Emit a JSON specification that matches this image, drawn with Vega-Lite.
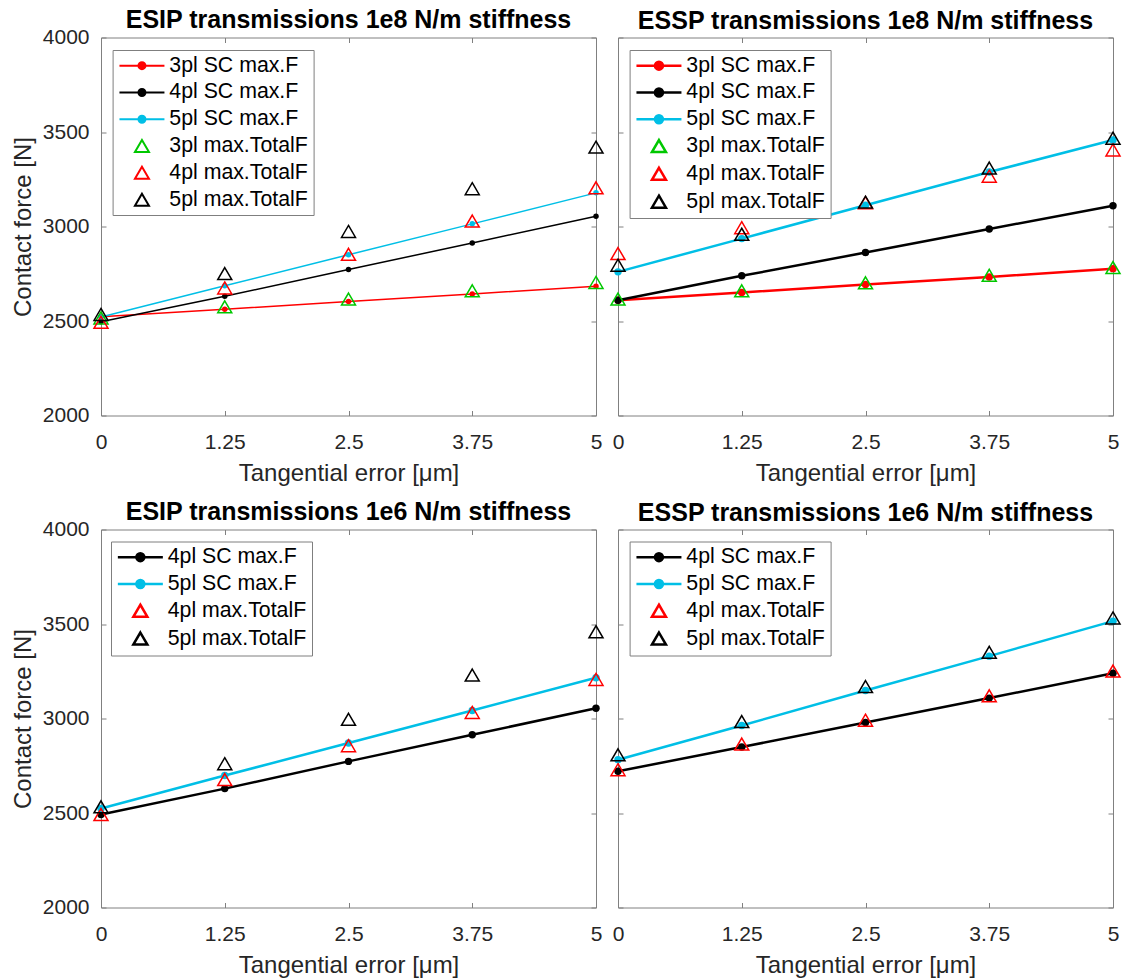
{
  "$schema": "https://vega.github.io/schema/vega-lite/v6.json",
  "background": "white",
  "padding": {"left": 11, "top": 7.5, "right": 5, "bottom": 0},
  "config": {
    "font": "Liberation Sans",
    "view": {"stroke": "#808080", "strokeWidth": 1},
    "axis": {"domain": false, "grid": false, "tickColor": "#808080", "tickSize": -5, "tickWidth": 1,
      "labelFont": "Liberation Sans", "labelFontSize": 21, "labelColor": "#262626", "labelFlush": false, "labelOverlap": false,
      "titleFont": "Liberation Sans", "titleFontSize": 24, "titleFontWeight": "normal", "titleColor": "#262626"},
    "axisX": {"labelPadding": 20.5, "titlePadding": 9},
    "axisY": {"labelPadding": 17, "titlePadding": 6.5},
    "title": {"font": "Liberation Sans", "fontSize": 25, "fontWeight": "bold", "color": "black", "anchor": "middle", "frame": "group"},
    "legend": {"padding": 5, "rowPadding": 4.8, "labelFont": "Liberation Sans", "labelFontSize": 21.3, "labelColor": "black", "labelLimit": 400,
      "symbolSize": 100, "symbolOffset": 13.7, "labelOffset": 16.7, "strokeColor": "#7f7f7f", "fillColor": "white", "cornerRadius": 0, "symbolOpacity": 1}
  },
  "datasets": {
    "d": [
      {"panel": "TL", "series": "3pl SC max.F", "kind": "SC", "err": 0, "force": 2522},
      {"panel": "TL", "series": "3pl SC max.F", "kind": "SC", "err": 1.25, "force": 2562},
      {"panel": "TL", "series": "3pl SC max.F", "kind": "SC", "err": 2.5, "force": 2603},
      {"panel": "TL", "series": "3pl SC max.F", "kind": "SC", "err": 3.75, "force": 2643},
      {"panel": "TL", "series": "3pl SC max.F", "kind": "SC", "err": 5, "force": 2684},
      {"panel": "TL", "series": "4pl SC max.F", "kind": "SC", "err": 0, "force": 2496},
      {"panel": "TL", "series": "4pl SC max.F", "kind": "SC", "err": 1.25, "force": 2631},
      {"panel": "TL", "series": "4pl SC max.F", "kind": "SC", "err": 2.5, "force": 2772},
      {"panel": "TL", "series": "4pl SC max.F", "kind": "SC", "err": 3.75, "force": 2913},
      {"panel": "TL", "series": "4pl SC max.F", "kind": "SC", "err": 5, "force": 3054},
      {"panel": "TL", "series": "5pl SC max.F", "kind": "SC", "err": 0, "force": 2521},
      {"panel": "TL", "series": "5pl SC max.F", "kind": "SC", "err": 1.25, "force": 2686},
      {"panel": "TL", "series": "5pl SC max.F", "kind": "SC", "err": 2.5, "force": 2850},
      {"panel": "TL", "series": "5pl SC max.F", "kind": "SC", "err": 3.75, "force": 3014},
      {"panel": "TL", "series": "5pl SC max.F", "kind": "SC", "err": 5, "force": 3178},
      {"panel": "TL", "series": "3pl max.TotalF", "kind": "Total", "err": 0, "force": 2516},
      {"panel": "TL", "series": "3pl max.TotalF", "kind": "Total", "err": 1.25, "force": 2575},
      {"panel": "TL", "series": "3pl max.TotalF", "kind": "Total", "err": 2.5, "force": 2616},
      {"panel": "TL", "series": "3pl max.TotalF", "kind": "Total", "err": 3.75, "force": 2660},
      {"panel": "TL", "series": "3pl max.TotalF", "kind": "Total", "err": 5, "force": 2704},
      {"panel": "TL", "series": "4pl max.TotalF", "kind": "Total", "err": 0, "force": 2493},
      {"panel": "TL", "series": "4pl max.TotalF", "kind": "Total", "err": 1.25, "force": 2675},
      {"panel": "TL", "series": "4pl max.TotalF", "kind": "Total", "err": 2.5, "force": 2853},
      {"panel": "TL", "series": "4pl max.TotalF", "kind": "Total", "err": 3.75, "force": 3029},
      {"panel": "TL", "series": "4pl max.TotalF", "kind": "Total", "err": 5, "force": 3205},
      {"panel": "TL", "series": "5pl max.TotalF", "kind": "Total", "err": 0, "force": 2535},
      {"panel": "TL", "series": "5pl max.TotalF", "kind": "Total", "err": 1.25, "force": 2751},
      {"panel": "TL", "series": "5pl max.TotalF", "kind": "Total", "err": 2.5, "force": 2974},
      {"panel": "TL", "series": "5pl max.TotalF", "kind": "Total", "err": 3.75, "force": 3200},
      {"panel": "TL", "series": "5pl max.TotalF", "kind": "Total", "err": 5, "force": 3420},

      {"panel": "TR", "series": "3pl SC max.F", "kind": "SC", "err": 0, "force": 2610},
      {"panel": "TR", "series": "3pl SC max.F", "kind": "SC", "err": 1.25, "force": 2651},
      {"panel": "TR", "series": "3pl SC max.F", "kind": "SC", "err": 2.5, "force": 2693},
      {"panel": "TR", "series": "3pl SC max.F", "kind": "SC", "err": 3.75, "force": 2733},
      {"panel": "TR", "series": "3pl SC max.F", "kind": "SC", "err": 5, "force": 2777},
      {"panel": "TR", "series": "4pl SC max.F", "kind": "SC", "err": 0, "force": 2610},
      {"panel": "TR", "series": "4pl SC max.F", "kind": "SC", "err": 1.25, "force": 2739},
      {"panel": "TR", "series": "4pl SC max.F", "kind": "SC", "err": 2.5, "force": 2862},
      {"panel": "TR", "series": "4pl SC max.F", "kind": "SC", "err": 3.75, "force": 2987},
      {"panel": "TR", "series": "4pl SC max.F", "kind": "SC", "err": 5, "force": 3110},
      {"panel": "TR", "series": "5pl SC max.F", "kind": "SC", "err": 0, "force": 2760},
      {"panel": "TR", "series": "5pl SC max.F", "kind": "SC", "err": 1.25, "force": 2936},
      {"panel": "TR", "series": "5pl SC max.F", "kind": "SC", "err": 2.5, "force": 3112},
      {"panel": "TR", "series": "5pl SC max.F", "kind": "SC", "err": 3.75, "force": 3288},
      {"panel": "TR", "series": "5pl SC max.F", "kind": "SC", "err": 5, "force": 3458},
      {"panel": "TR", "series": "3pl max.TotalF", "kind": "Total", "err": 0, "force": 2616},
      {"panel": "TR", "series": "3pl max.TotalF", "kind": "Total", "err": 1.25, "force": 2660},
      {"panel": "TR", "series": "3pl max.TotalF", "kind": "Total", "err": 2.5, "force": 2702},
      {"panel": "TR", "series": "3pl max.TotalF", "kind": "Total", "err": 3.75, "force": 2742},
      {"panel": "TR", "series": "3pl max.TotalF", "kind": "Total", "err": 5, "force": 2783},
      {"panel": "TR", "series": "4pl max.TotalF", "kind": "Total", "err": 0, "force": 2857},
      {"panel": "TR", "series": "4pl max.TotalF", "kind": "Total", "err": 1.25, "force": 2994},
      {"panel": "TR", "series": "4pl max.TotalF", "kind": "Total", "err": 2.5, "force": 3126},
      {"panel": "TR", "series": "4pl max.TotalF", "kind": "Total", "err": 3.75, "force": 3266},
      {"panel": "TR", "series": "4pl max.TotalF", "kind": "Total", "err": 5, "force": 3405},
      {"panel": "TR", "series": "5pl max.TotalF", "kind": "Total", "err": 0, "force": 2795},
      {"panel": "TR", "series": "5pl max.TotalF", "kind": "Total", "err": 1.25, "force": 2959},
      {"panel": "TR", "series": "5pl max.TotalF", "kind": "Total", "err": 2.5, "force": 3129},
      {"panel": "TR", "series": "5pl max.TotalF", "kind": "Total", "err": 3.75, "force": 3309},
      {"panel": "TR", "series": "5pl max.TotalF", "kind": "Total", "err": 5, "force": 3467},

      {"panel": "BL", "series": "4pl SC max.F", "kind": "SC", "err": 0, "force": 2492},
      {"panel": "BL", "series": "4pl SC max.F", "kind": "SC", "err": 1.25, "force": 2629},
      {"panel": "BL", "series": "4pl SC max.F", "kind": "SC", "err": 2.5, "force": 2773},
      {"panel": "BL", "series": "4pl SC max.F", "kind": "SC", "err": 3.75, "force": 2914},
      {"panel": "BL", "series": "4pl SC max.F", "kind": "SC", "err": 5, "force": 3054},
      {"panel": "BL", "series": "5pl SC max.F", "kind": "SC", "err": 0, "force": 2524},
      {"panel": "BL", "series": "5pl SC max.F", "kind": "SC", "err": 1.25, "force": 2698},
      {"panel": "BL", "series": "5pl SC max.F", "kind": "SC", "err": 2.5, "force": 2870},
      {"panel": "BL", "series": "5pl SC max.F", "kind": "SC", "err": 3.75, "force": 3042},
      {"panel": "BL", "series": "5pl SC max.F", "kind": "SC", "err": 5, "force": 3216},
      {"panel": "BL", "series": "4pl max.TotalF", "kind": "Total", "err": 0, "force": 2492},
      {"panel": "BL", "series": "4pl max.TotalF", "kind": "Total", "err": 1.25, "force": 2677},
      {"panel": "BL", "series": "4pl max.TotalF", "kind": "Total", "err": 2.5, "force": 2856},
      {"panel": "BL", "series": "4pl max.TotalF", "kind": "Total", "err": 3.75, "force": 3032},
      {"panel": "BL", "series": "4pl max.TotalF", "kind": "Total", "err": 5, "force": 3207},
      {"panel": "BL", "series": "5pl max.TotalF", "kind": "Total", "err": 0, "force": 2533},
      {"panel": "BL", "series": "5pl max.TotalF", "kind": "Total", "err": 1.25, "force": 2761},
      {"panel": "BL", "series": "5pl max.TotalF", "kind": "Total", "err": 2.5, "force": 2996},
      {"panel": "BL", "series": "5pl max.TotalF", "kind": "Total", "err": 3.75, "force": 3230},
      {"panel": "BL", "series": "5pl max.TotalF", "kind": "Total", "err": 5, "force": 3459},

      {"panel": "BR", "series": "4pl SC max.F", "kind": "SC", "err": 0, "force": 2721},
      {"panel": "BR", "series": "4pl SC max.F", "kind": "SC", "err": 1.25, "force": 2849},
      {"panel": "BR", "series": "4pl SC max.F", "kind": "SC", "err": 2.5, "force": 2979},
      {"panel": "BR", "series": "4pl SC max.F", "kind": "SC", "err": 3.75, "force": 3108},
      {"panel": "BR", "series": "4pl SC max.F", "kind": "SC", "err": 5, "force": 3239},
      {"panel": "BR", "series": "5pl SC max.F", "kind": "SC", "err": 0, "force": 2782},
      {"panel": "BR", "series": "5pl SC max.F", "kind": "SC", "err": 1.25, "force": 2963},
      {"panel": "BR", "series": "5pl SC max.F", "kind": "SC", "err": 2.5, "force": 3148},
      {"panel": "BR", "series": "5pl SC max.F", "kind": "SC", "err": 3.75, "force": 3330},
      {"panel": "BR", "series": "5pl SC max.F", "kind": "SC", "err": 5, "force": 3515},
      {"panel": "BR", "series": "4pl max.TotalF", "kind": "Total", "err": 0, "force": 2729},
      {"panel": "BR", "series": "4pl max.TotalF", "kind": "Total", "err": 1.25, "force": 2865},
      {"panel": "BR", "series": "4pl max.TotalF", "kind": "Total", "err": 2.5, "force": 2991},
      {"panel": "BR", "series": "4pl max.TotalF", "kind": "Total", "err": 3.75, "force": 3120},
      {"panel": "BR", "series": "4pl max.TotalF", "kind": "Total", "err": 5, "force": 3251},
      {"panel": "BR", "series": "5pl max.TotalF", "kind": "Total", "err": 0, "force": 2808},
      {"panel": "BR", "series": "5pl max.TotalF", "kind": "Total", "err": 1.25, "force": 2984},
      {"panel": "BR", "series": "5pl max.TotalF", "kind": "Total", "err": 2.5, "force": 3169},
      {"panel": "BR", "series": "5pl max.TotalF", "kind": "Total", "err": 3.75, "force": 3350},
      {"panel": "BR", "series": "5pl max.TotalF", "kind": "Total", "err": 5, "force": 3532}
    ]
  },
  "data": {"name": "d"},
  "spacing": 14,
  "resolve": {"scale": {"color": "independent", "stroke": "independent", "fill": "independent", "shape": "independent"}, "legend": {"color": "independent", "stroke": "independent", "fill": "independent", "shape": "independent"}},
  "vconcat": [
    {
      "spacing": 0,
      "resolve": {"scale": {"color": "independent", "stroke": "independent", "fill": "independent", "shape": "independent"}, "legend": {"color": "independent", "stroke": "independent", "fill": "independent", "shape": "independent"}},
      "hconcat": [
        {
          "width": 495, "height": 378,
          "title": {"text": "ESIP transmissions 1e8 N/m stiffness", "offset": -6.5},
          "transform": [{"filter": "datum.panel === 'TL'"}],
          "resolve": {"axis": {"x": "independent", "y": "independent"}},
          "layer": [
            {
              "transform": [{"filter": "datum.kind === 'SC'"}],
              "mark": {"type": "line", "strokeWidth": 1.5},
              "encoding": {
                "x": {"field": "err", "type": "quantitative", "scale": {"domain": [0, 5], "nice": false}, "axis": {"values": [0, 1.25, 2.5, 3.75, 5], "format": ".3~g", "title": "Tangential error [μm]"}},
                "y": {"field": "force", "type": "quantitative", "scale": {"domain": [2000, 4000], "nice": false}, "axis": {"values": [2000, 2500, 3000, 3500, 4000], "format": "d", "title": "Contact force [N]"}},
                "color": {"field": "series", "type": "nominal", "scale": {"domain": ["3pl SC max.F", "4pl SC max.F", "5pl SC max.F"], "range": ["#ff0000", "#000000", "#00bfe6"]}, "legend": null}
              }
            },
            {
              "transform": [{"filter": "datum.kind === 'SC'"}],
              "mark": {"type": "point", "filled": true, "opacity": 1, "size": 30},
              "encoding": {
                "x": {"field": "err", "type": "quantitative", "axis": null},
                "y": {"field": "force", "type": "quantitative", "axis": null},
                "color": {"field": "series", "type": "nominal", "legend": null}
              }
            },
            {
              "transform": [{"filter": "datum.kind === 'Total'"}],
              "mark": {"type": "point", "opacity": 1, "size": 100, "strokeWidth": 1.5},
              "encoding": {
                "x": {"field": "err", "type": "quantitative", "axis": {"orient": "top", "labels": false, "title": null, "values": [0, 1.25, 2.5, 3.75, 5]}},
                "y": {"field": "force", "type": "quantitative", "axis": {"orient": "right", "labels": false, "title": null, "values": [2000, 2500, 3000, 3500, 4000]}},
                "stroke": {"field": "series", "type": "nominal", "scale": {"domain": ["3pl SC max.F", "4pl SC max.F", "5pl SC max.F", "3pl max.TotalF", "4pl max.TotalF", "5pl max.TotalF"], "range": ["#ff0000", "#000000", "#00bfe6", "#00c800", "#ff0000", "#000000"]}, "legend": {"title": null, "symbolStrokeWidth": 2, "orient": "none", "legendX": 11.6, "legendY": 12.5}},
                "fill": {"field": "series", "type": "nominal", "scale": {"domain": ["3pl SC max.F", "4pl SC max.F", "5pl SC max.F", "3pl max.TotalF", "4pl max.TotalF", "5pl max.TotalF"], "range": ["#ff0000", "#000000", "#00bfe6", "transparent", "transparent", "transparent"]}, "legend": {"title": null, "symbolStrokeWidth": 2, "orient": "none", "legendX": 11.6, "legendY": 12.5}},
                "shape": {"field": "series", "type": "nominal", "scale": {"domain": ["3pl SC max.F", "4pl SC max.F", "5pl SC max.F", "3pl max.TotalF", "4pl max.TotalF", "5pl max.TotalF"], "range": ["M-4.5,0H4.5M-0.7,0A0.7,0.7 0 1 1 0.7,0A0.7,0.7 0 1 1 -0.7,0", "M-4.5,0H4.5M-0.7,0A0.7,0.7 0 1 1 0.7,0A0.7,0.7 0 1 1 -0.7,0", "M-4.5,0H4.5M-0.7,0A0.7,0.7 0 1 1 0.7,0A0.7,0.7 0 1 1 -0.7,0", "M0,-1.2L1.4,1.2L-1.4,1.2Z", "M0,-1.2L1.4,1.2L-1.4,1.2Z", "M0,-1.2L1.4,1.2L-1.4,1.2Z"]}, "legend": {"title": null, "symbolStrokeWidth": 2, "orient": "none", "legendX": 11.6, "legendY": 12.5}}
              }
            }
          ]
        },
        {
          "width": 495, "height": 378,
          "title": {"text": "ESSP transmissions 1e8 N/m stiffness", "offset": 3.5},
          "transform": [{"filter": "datum.panel === 'TR'"}],
          "resolve": {"axis": {"x": "independent", "y": "independent"}},
          "layer": [
            {
              "transform": [{"filter": "datum.kind === 'SC'"}],
              "mark": {"type": "line", "strokeWidth": 2.5},
              "encoding": {
                "x": {"field": "err", "type": "quantitative", "scale": {"domain": [0, 5], "nice": false}, "axis": {"values": [0, 1.25, 2.5, 3.75, 5], "format": ".3~g", "title": "Tangential error [μm]"}},
                "y": {"field": "force", "type": "quantitative", "scale": {"domain": [2000, 4000], "nice": false}, "axis": {"values": [2000, 2500, 3000, 3500, 4000], "labels": false, "title": null}},
                "color": {"field": "series", "type": "nominal", "scale": {"domain": ["3pl SC max.F", "4pl SC max.F", "5pl SC max.F"], "range": ["#ff0000", "#000000", "#00bfe6"]}, "legend": null}
              }
            },
            {
              "transform": [{"filter": "datum.kind === 'SC'"}],
              "mark": {"type": "point", "filled": true, "opacity": 1, "size": 55},
              "encoding": {
                "x": {"field": "err", "type": "quantitative", "axis": null},
                "y": {"field": "force", "type": "quantitative", "axis": null},
                "color": {"field": "series", "type": "nominal", "legend": null}
              }
            },
            {
              "transform": [{"filter": "datum.kind === 'Total'"}],
              "mark": {"type": "point", "opacity": 1, "size": 100, "strokeWidth": 1.5},
              "encoding": {
                "x": {"field": "err", "type": "quantitative", "axis": {"orient": "top", "labels": false, "title": null, "values": [0, 1.25, 2.5, 3.75, 5]}},
                "y": {"field": "force", "type": "quantitative", "axis": {"orient": "right", "labels": false, "title": null, "values": [2000, 2500, 3000, 3500, 4000]}},
                "stroke": {"field": "series", "type": "nominal", "scale": {"domain": ["3pl SC max.F", "4pl SC max.F", "5pl SC max.F", "3pl max.TotalF", "4pl max.TotalF", "5pl max.TotalF"], "range": ["#ff0000", "#000000", "#00bfe6", "#00c800", "#ff0000", "#000000"]}, "legend": {"title": null, "symbolStrokeWidth": 2.5, "orient": "none", "legendX": 11.6, "legendY": 12.5}},
                "fill": {"field": "series", "type": "nominal", "scale": {"domain": ["3pl SC max.F", "4pl SC max.F", "5pl SC max.F", "3pl max.TotalF", "4pl max.TotalF", "5pl max.TotalF"], "range": ["#ff0000", "#000000", "#00bfe6", "transparent", "transparent", "transparent"]}, "legend": {"title": null, "symbolStrokeWidth": 2.5, "orient": "none", "legendX": 11.6, "legendY": 12.5}},
                "shape": {"field": "series", "type": "nominal", "scale": {"domain": ["3pl SC max.F", "4pl SC max.F", "5pl SC max.F", "3pl max.TotalF", "4pl max.TotalF", "5pl max.TotalF"], "range": ["M-4.5,0H4.5M-0.8,0A0.8,0.8 0 1 1 0.8,0A0.8,0.8 0 1 1 -0.8,0", "M-4.5,0H4.5M-0.8,0A0.8,0.8 0 1 1 0.8,0A0.8,0.8 0 1 1 -0.8,0", "M-4.5,0H4.5M-0.8,0A0.8,0.8 0 1 1 0.8,0A0.8,0.8 0 1 1 -0.8,0", "M0,-1.2L1.4,1.2L-1.4,1.2Z", "M0,-1.2L1.4,1.2L-1.4,1.2Z", "M0,-1.2L1.4,1.2L-1.4,1.2Z"]}, "legend": {"title": null, "symbolStrokeWidth": 2.5, "orient": "none", "legendX": 11.6, "legendY": 12.5}}
              }
            }
          ]
        }
      ]
    },
    {
      "spacing": 0,
      "resolve": {"scale": {"color": "independent", "stroke": "independent", "fill": "independent", "shape": "independent"}, "legend": {"color": "independent", "stroke": "independent", "fill": "independent", "shape": "independent"}},
      "hconcat": [
        {
          "width": 495, "height": 378,
          "title": {"text": "ESIP transmissions 1e6 N/m stiffness", "offset": -6.5},
          "transform": [{"filter": "datum.panel === 'BL'"}],
          "resolve": {"axis": {"x": "independent", "y": "independent"}},
          "layer": [
            {
              "transform": [{"filter": "datum.kind === 'SC'"}],
              "mark": {"type": "line", "strokeWidth": 2.5},
              "encoding": {
                "x": {"field": "err", "type": "quantitative", "scale": {"domain": [0, 5], "nice": false}, "axis": {"values": [0, 1.25, 2.5, 3.75, 5], "format": ".3~g", "title": "Tangential error [μm]"}},
                "y": {"field": "force", "type": "quantitative", "scale": {"domain": [2000, 4000], "nice": false}, "axis": {"values": [2000, 2500, 3000, 3500, 4000], "format": "d", "title": "Contact force [N]"}},
                "color": {"field": "series", "type": "nominal", "scale": {"domain": ["4pl SC max.F", "5pl SC max.F"], "range": ["#000000", "#00bfe6"]}, "legend": null}
              }
            },
            {
              "transform": [{"filter": "datum.kind === 'SC'"}],
              "mark": {"type": "point", "filled": true, "opacity": 1, "size": 55},
              "encoding": {
                "x": {"field": "err", "type": "quantitative", "axis": null},
                "y": {"field": "force", "type": "quantitative", "axis": null},
                "color": {"field": "series", "type": "nominal", "legend": null}
              }
            },
            {
              "transform": [{"filter": "datum.kind === 'Total'"}],
              "mark": {"type": "point", "opacity": 1, "size": 100, "strokeWidth": 1.5},
              "encoding": {
                "x": {"field": "err", "type": "quantitative", "axis": {"orient": "top", "labels": false, "title": null, "values": [0, 1.25, 2.5, 3.75, 5]}},
                "y": {"field": "force", "type": "quantitative", "axis": {"orient": "right", "labels": false, "title": null, "values": [2000, 2500, 3000, 3500, 4000]}},
                "stroke": {"field": "series", "type": "nominal", "scale": {"domain": ["4pl SC max.F", "5pl SC max.F", "4pl max.TotalF", "5pl max.TotalF"], "range": ["#000000", "#00bfe6", "#ff0000", "#000000"]}, "legend": {"title": null, "symbolStrokeWidth": 2.5, "orient": "none", "legendX": 10, "legendY": 12}},
                "fill": {"field": "series", "type": "nominal", "scale": {"domain": ["4pl SC max.F", "5pl SC max.F", "4pl max.TotalF", "5pl max.TotalF"], "range": ["#000000", "#00bfe6", "transparent", "transparent"]}, "legend": {"title": null, "symbolStrokeWidth": 2.5, "orient": "none", "legendX": 10, "legendY": 12}},
                "shape": {"field": "series", "type": "nominal", "scale": {"domain": ["4pl SC max.F", "5pl SC max.F", "4pl max.TotalF", "5pl max.TotalF"], "range": ["M-4.5,0H4.5M-0.8,0A0.8,0.8 0 1 1 0.8,0A0.8,0.8 0 1 1 -0.8,0", "M-4.5,0H4.5M-0.8,0A0.8,0.8 0 1 1 0.8,0A0.8,0.8 0 1 1 -0.8,0", "M0,-1.2L1.4,1.2L-1.4,1.2Z", "M0,-1.2L1.4,1.2L-1.4,1.2Z"]}, "legend": {"title": null, "symbolStrokeWidth": 2.5, "orient": "none", "legendX": 10, "legendY": 12}}
              }
            }
          ]
        },
        {
          "width": 495, "height": 378,
          "title": {"text": "ESSP transmissions 1e6 N/m stiffness", "offset": 3.5},
          "transform": [{"filter": "datum.panel === 'BR'"}],
          "resolve": {"axis": {"x": "independent", "y": "independent"}},
          "layer": [
            {
              "transform": [{"filter": "datum.kind === 'SC'"}],
              "mark": {"type": "line", "strokeWidth": 2.5},
              "encoding": {
                "x": {"field": "err", "type": "quantitative", "scale": {"domain": [0, 5], "nice": false}, "axis": {"values": [0, 1.25, 2.5, 3.75, 5], "format": ".3~g", "title": "Tangential error [μm]"}},
                "y": {"field": "force", "type": "quantitative", "scale": {"domain": [2000, 4000], "nice": false}, "axis": {"values": [2000, 2500, 3000, 3500, 4000], "labels": false, "title": null}},
                "color": {"field": "series", "type": "nominal", "scale": {"domain": ["4pl SC max.F", "5pl SC max.F"], "range": ["#000000", "#00bfe6"]}, "legend": null}
              }
            },
            {
              "transform": [{"filter": "datum.kind === 'SC'"}],
              "mark": {"type": "point", "filled": true, "opacity": 1, "size": 55},
              "encoding": {
                "x": {"field": "err", "type": "quantitative", "axis": null},
                "y": {"field": "force", "type": "quantitative", "axis": null},
                "color": {"field": "series", "type": "nominal", "legend": null}
              }
            },
            {
              "transform": [{"filter": "datum.kind === 'Total'"}],
              "mark": {"type": "point", "opacity": 1, "size": 100, "strokeWidth": 1.5},
              "encoding": {
                "x": {"field": "err", "type": "quantitative", "axis": {"orient": "top", "labels": false, "title": null, "values": [0, 1.25, 2.5, 3.75, 5]}},
                "y": {"field": "force", "type": "quantitative", "axis": {"orient": "right", "labels": false, "title": null, "values": [2000, 2500, 3000, 3500, 4000]}},
                "stroke": {"field": "series", "type": "nominal", "scale": {"domain": ["4pl SC max.F", "5pl SC max.F", "4pl max.TotalF", "5pl max.TotalF"], "range": ["#000000", "#00bfe6", "#ff0000", "#000000"]}, "legend": {"title": null, "symbolStrokeWidth": 2.5, "orient": "none", "legendX": 11.6, "legendY": 12}},
                "fill": {"field": "series", "type": "nominal", "scale": {"domain": ["4pl SC max.F", "5pl SC max.F", "4pl max.TotalF", "5pl max.TotalF"], "range": ["#000000", "#00bfe6", "transparent", "transparent"]}, "legend": {"title": null, "symbolStrokeWidth": 2.5, "orient": "none", "legendX": 11.6, "legendY": 12}},
                "shape": {"field": "series", "type": "nominal", "scale": {"domain": ["4pl SC max.F", "5pl SC max.F", "4pl max.TotalF", "5pl max.TotalF"], "range": ["M-4.5,0H4.5M-0.8,0A0.8,0.8 0 1 1 0.8,0A0.8,0.8 0 1 1 -0.8,0", "M-4.5,0H4.5M-0.8,0A0.8,0.8 0 1 1 0.8,0A0.8,0.8 0 1 1 -0.8,0", "M0,-1.2L1.4,1.2L-1.4,1.2Z", "M0,-1.2L1.4,1.2L-1.4,1.2Z"]}, "legend": {"title": null, "symbolStrokeWidth": 2.5, "orient": "none", "legendX": 11.6, "legendY": 12}}
              }
            }
          ]
        }
      ]
    }
  ]
}
